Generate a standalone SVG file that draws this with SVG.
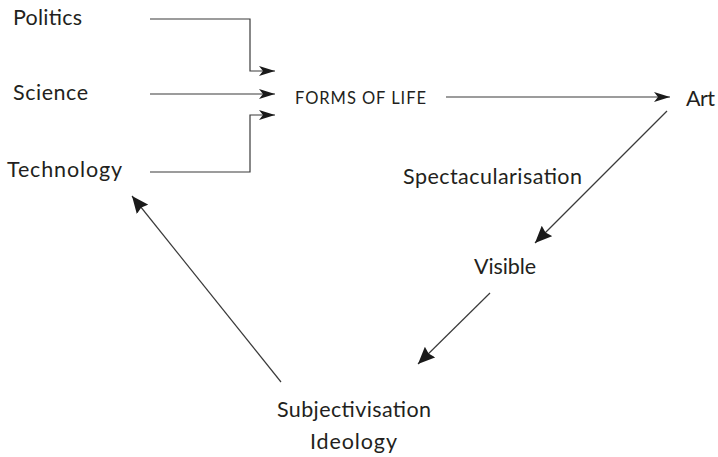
<svg xmlns="http://www.w3.org/2000/svg" width="718" height="457" viewBox="0 0 718 457">
<style>
text{font-family:Lato,"Open Sans","Liberation Sans",sans-serif;fill:#231f20;font-size:21.5px}
.sm{font-size:16.5px}
.c{fill:none;stroke:#3a3a3a;stroke-width:1.2}
</style>
<defs>
<marker id="a" viewBox="0 0 16 10" refX="16" refY="5" markerWidth="16" markerHeight="10" markerUnits="userSpaceOnUse" orient="auto">
<path d="M0,0 L16,5 L0,10 L4,5 Z" fill="#1a1a1a"/>
</marker>
<marker id="b" viewBox="0 0 16 14" refX="16" refY="7" markerWidth="17" markerHeight="15" markerUnits="userSpaceOnUse" orient="auto">
<path d="M0,0 L16,7 L0,14 L2,7 Z" fill="#1a1a1a"/>
</marker>
</defs>
<g id="politics"><text x="13" y="24.5" textLength="69">Politics</text></g>
<g id="science"><text x="13" y="100" textLength="75">Science</text></g>
<g id="technology"><text x="7" y="176.5" textLength="115">Technology</text></g>
<g id="forms"><text class="sm" x="295" y="104" textLength="131">FORMS OF LIFE</text></g>
<g id="art"><text x="686" y="106" textLength="29">Art</text></g>
<g id="spectacularisation"><text x="403" y="184" textLength="179">Spectacularisation</text></g>
<g id="visible"><text x="474" y="274" textLength="62">Visible</text></g>
<g id="subjectivisation"><text x="277" y="417" textLength="154">Subjectivisation</text><text x="310" y="449" textLength="87">Ideology</text></g>
<g id="connectors">
<path class="c" d="M150,19 H250 V71 H275" marker-end="url(#a)"/>
<path class="c" d="M150,94 H275" marker-end="url(#a)"/>
<path class="c" d="M150,172 H250 V115 H275" marker-end="url(#a)"/>
<path class="c" d="M446,97 H670" marker-end="url(#a)"/>
<path class="c" d="M667,111 L535,243" marker-end="url(#b)"/>
<path class="c" d="M490,293 L418,364" marker-end="url(#b)"/>
<path class="c" d="M281,382 L132,196" marker-end="url(#b)"/>
</g>
</svg>
